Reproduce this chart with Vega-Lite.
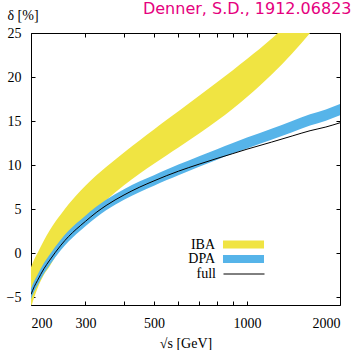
{
  "$schema": "https://vega.github.io/schema/vega-lite/v6.json",
  "width": 309,
  "height": 272,
  "autosize": {"type": "none"},
  "padding": {"left": 31, "top": 33, "right": 16, "bottom": 45},
  "background": "white",
  "config": {
    "view": {"stroke": "black", "strokeWidth": 1},
    "axis": {
      "domain": false, "grid": false,
      "tickColor": "black", "tickSize": -4, "tickWidth": 1,
      "labelFont": "Liberation Serif", "labelFontSize": 14, "labelColor": "black",
      "titleFont": "Liberation Serif", "titleFontSize": 14, "titleFontWeight": "normal", "titleColor": "black"
    }
  },
  "title": {
    "text": "Denner, S.D., 1912.06823",
    "anchor": "end", "dx": 11, "offset": -21,
    "font": "DejaVu Sans", "fontSize": 16, "fontWeight": "normal",
    "color": "#e5007e", "baseline": "alphabetic"
  },
  "datasets": {
    "iba": [
      {"series": "IBA", "s": 200, "lo": -6.2, "hi": -1.6},
      {"series": "IBA", "s": 205, "lo": -5.0, "hi": -0.7},
      {"series": "IBA", "s": 210, "lo": -4.0, "hi": 0.0},
      {"series": "IBA", "s": 220, "lo": -2.5, "hi": 1.4},
      {"series": "IBA", "s": 230, "lo": -1.5, "hi": 2.6},
      {"series": "IBA", "s": 240, "lo": -0.4, "hi": 3.6},
      {"series": "IBA", "s": 250, "lo": 0.5, "hi": 4.4},
      {"series": "IBA", "s": 265, "lo": 1.7, "hi": 5.56},
      {"series": "IBA", "s": 280, "lo": 2.6, "hi": 6.54},
      {"series": "IBA", "s": 300, "lo": 3.9, "hi": 7.65},
      {"series": "IBA", "s": 325, "lo": 5.0, "hi": 8.8},
      {"series": "IBA", "s": 350, "lo": 6.0, "hi": 9.78},
      {"series": "IBA", "s": 400, "lo": 7.7, "hi": 11.43},
      {"series": "IBA", "s": 450, "lo": 9.03, "hi": 12.83},
      {"series": "IBA", "s": 500, "lo": 10.15, "hi": 14.05},
      {"series": "IBA", "s": 550, "lo": 11.12, "hi": 15.14},
      {"series": "IBA", "s": 600, "lo": 12.0, "hi": 16.12},
      {"series": "IBA", "s": 700, "lo": 13.57, "hi": 17.86},
      {"series": "IBA", "s": 800, "lo": 15.02, "hi": 19.4},
      {"series": "IBA", "s": 900, "lo": 16.4, "hi": 20.78},
      {"series": "IBA", "s": 1000, "lo": 17.73, "hi": 22.04},
      {"series": "IBA", "s": 1200, "lo": 20.26, "hi": 24.34},
      {"series": "IBA", "s": 1400, "lo": 22.67, "hi": 26.55},
      {"series": "IBA", "s": 1600, "lo": 24.99, "hi": 28.75},
      {"series": "IBA", "s": 1800, "lo": 27.2, "hi": 30.9},
      {"series": "IBA", "s": 2000, "lo": 29.26, "hi": 33.0}
    ],
    "dpa": [
      {"series": "DPA", "s": 200, "lo": -5.25, "hi": -4.05},
      {"series": "DPA", "s": 205, "lo": -4.35, "hi": -3.15},
      {"series": "DPA", "s": 210, "lo": -3.65, "hi": -2.45},
      {"series": "DPA", "s": 220, "lo": -2.35, "hi": -1.15},
      {"series": "DPA", "s": 230, "lo": -1.35, "hi": -0.15},
      {"series": "DPA", "s": 240, "lo": -0.45, "hi": 0.75},
      {"series": "DPA", "s": 250, "lo": 0.35, "hi": 1.55},
      {"series": "DPA", "s": 265, "lo": 1.35, "hi": 2.55},
      {"series": "DPA", "s": 280, "lo": 2.15, "hi": 3.35},
      {"series": "DPA", "s": 300, "lo": 3.05, "hi": 4.25},
      {"series": "DPA", "s": 325, "lo": 4.05, "hi": 5.25},
      {"series": "DPA", "s": 350, "lo": 4.85, "hi": 6.05},
      {"series": "DPA", "s": 400, "lo": 6.05, "hi": 7.25},
      {"series": "DPA", "s": 450, "lo": 6.95, "hi": 8.15},
      {"series": "DPA", "s": 500, "lo": 7.65, "hi": 8.85},
      {"series": "DPA", "s": 550, "lo": 8.3, "hi": 9.5},
      {"series": "DPA", "s": 600, "lo": 8.85, "hi": 10.05},
      {"series": "DPA", "s": 700, "lo": 9.8, "hi": 11.0},
      {"series": "DPA", "s": 800, "lo": 10.6, "hi": 11.8},
      {"series": "DPA", "s": 900, "lo": 11.3, "hi": 12.5},
      {"series": "DPA", "s": 1000, "lo": 11.88, "hi": 13.12},
      {"series": "DPA", "s": 1200, "lo": 12.87, "hi": 14.13},
      {"series": "DPA", "s": 1400, "lo": 13.73, "hi": 15.01},
      {"series": "DPA", "s": 1600, "lo": 14.48, "hi": 15.76},
      {"series": "DPA", "s": 1800, "lo": 15.04, "hi": 16.32},
      {"series": "DPA", "s": 2000, "lo": 15.66, "hi": 16.94}
    ],
    "full": [
      {"series": "full", "s": 200, "v": -4.7},
      {"series": "full", "s": 205, "v": -3.8},
      {"series": "full", "s": 210, "v": -3.1},
      {"series": "full", "s": 220, "v": -1.8},
      {"series": "full", "s": 230, "v": -0.8},
      {"series": "full", "s": 240, "v": 0.1},
      {"series": "full", "s": 250, "v": 0.9},
      {"series": "full", "s": 265, "v": 1.9},
      {"series": "full", "s": 280, "v": 2.7},
      {"series": "full", "s": 300, "v": 3.6},
      {"series": "full", "s": 325, "v": 4.6},
      {"series": "full", "s": 350, "v": 5.4},
      {"series": "full", "s": 400, "v": 6.6},
      {"series": "full", "s": 450, "v": 7.5},
      {"series": "full", "s": 500, "v": 8.2},
      {"series": "full", "s": 550, "v": 8.8},
      {"series": "full", "s": 600, "v": 9.3},
      {"series": "full", "s": 700, "v": 10.1},
      {"series": "full", "s": 800, "v": 10.75},
      {"series": "full", "s": 900, "v": 11.3},
      {"series": "full", "s": 1000, "v": 11.8},
      {"series": "full", "s": 1200, "v": 12.6},
      {"series": "full", "s": 1400, "v": 13.3},
      {"series": "full", "s": 1600, "v": 13.9},
      {"series": "full", "s": 1800, "v": 14.32},
      {"series": "full", "s": 2000, "v": 14.8}
    ]
  },
  "layer": [
    {
      "data": {"name": "iba"},
      "mark": {"type": "area", "interpolate": "monotone", "clip": true},
      "encoding": {
        "x": {
          "field": "s", "type": "quantitative",
          "scale": {"type": "log", "domain": [200, 2000], "nice": false},
          "axis": {
            "values": [200, 300, 400, 500, 600, 700, 800, 900, 1000, 2000],
            "labelExpr": "indexof([200, 300, 500, 1000, 2000], datum.value) >= 0 ? format(datum.value, 'd') : ''",
            "title": "√s [GeV]", "labelPadding": 15, "titlePadding": 6
          }
        },
        "y": {
          "field": "lo", "type": "quantitative",
          "scale": {"domain": [-5.9, 25], "nice": false, "zero": false},
          "axis": {
            "values": [-5, 0, 5, 10, 15, 20, 25],
            "title": "δ [%]", "titleAngle": 0, "titleAlign": "left", "titleBaseline": "alphabetic",
            "titleX": -24, "titleY": -13.5, "labelPadding": 14
          }
        },
        "y2": {"field": "hi"},
        "color": {
          "field": "series", "type": "nominal",
          "scale": {"domain": ["IBA", "DPA"], "range": ["#f0e442", "#56b4e9"]},
          "legend": {
            "title": null, "orient": "none", "legendX": 205.5, "legendY": 204.5,
            "padding": 0, "rowPadding": 0.5,
            "symbolSize": 196, "symbolType": "M-2.93,-0.57H2.93V0.57H-2.93Z",
            "symbolStrokeWidth": 0, "symbolOpacity": 1,
            "labelFont": "Liberation Serif", "labelFontSize": 14, "labelColor": "black",
            "labelAlign": "right", "labelOffset": -35.5
          }
        }
      }
    },
    {
      "data": {"name": "dpa"},
      "mark": {"type": "area", "interpolate": "monotone", "clip": true},
      "encoding": {
        "x": {
          "field": "s", "type": "quantitative",
          "scale": {"type": "log", "domain": [200, 2000], "nice": false},
          "axis": {"orient": "top", "values": [200, 300, 400, 500, 600, 700, 800, 900, 1000, 2000], "labels": false, "title": null}
        },
        "y": {
          "field": "lo", "type": "quantitative",
          "scale": {"domain": [-5.9, 25], "nice": false, "zero": false},
          "axis": {"orient": "right", "values": [-5, 0, 5, 10, 15, 20, 25], "labels": false, "title": null}
        },
        "y2": {"field": "hi"},
        "color": {"field": "series", "type": "nominal"}
      }
    },
    {
      "data": {"name": "full"},
      "mark": {"type": "line", "interpolate": "monotone", "clip": true, "strokeWidth": 1},
      "encoding": {
        "x": {"field": "s", "type": "quantitative", "scale": {"type": "log", "domain": [200, 2000], "nice": false}, "axis": null},
        "y": {"field": "v", "type": "quantitative", "scale": {"domain": [-5.9, 25], "nice": false, "zero": false}, "axis": null},
        "stroke": {
          "field": "series", "type": "nominal",
          "scale": {"domain": ["full"], "range": ["#000000"]},
          "legend": {
            "title": null, "orient": "none", "legendX": 205.5, "legendY": 233.5,
            "padding": 0,
            "symbolSize": 196, "symbolType": "M-2.93,0H2.93",
            "symbolStrokeWidth": 1, "symbolOpacity": 1,
            "labelFont": "Liberation Serif", "labelFontSize": 14, "labelColor": "black",
            "labelAlign": "right", "labelOffset": -35.5
          }
        }
      }
    }
  ],
  "resolve": {"axis": {"x": "independent", "y": "independent"}}
}
